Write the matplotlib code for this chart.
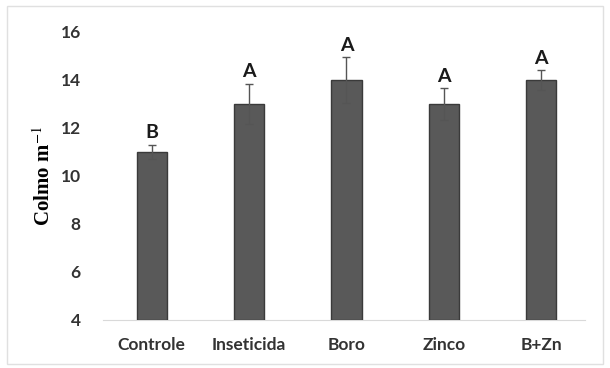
import matplotlib
matplotlib.use("Agg")
import matplotlib.pyplot as plt
import numpy as np

categories = ['Controle', 'Inseticida', 'Boro', 'Zinco', 'B+Zn']
means = [11.0, 13.0, 14.0, 13.0, 14.0]
errors = [0.3, 0.85, 0.95, 0.65, 0.4]
letters = ['B', 'A', 'A', 'A', 'A']

plt.rcParams['mathtext.fontset'] = 'stix'

fig = plt.figure(figsize=(6.1, 3.68), dpi=100)
ax = fig.add_axes([103/610, 48/368, 482/610, 288/368])

x = np.arange(len(categories))
ax.bar(x, np.array(means) - 4, bottom=4, width=0.31, color='#595959',
       edgecolor='#3a3a3a', linewidth=1.0, zorder=2)
ax.errorbar(x, means, yerr=errors, fmt='none', ecolor='#555555',
            elinewidth=1.0, capsize=3, capthick=1.0, zorder=3)

for xi, m, e, l in zip(x, means, errors, letters):
    ax.text(xi, m + e + 0.15, l, ha='center', va='bottom', fontsize=14,
            fontweight='bold', family='Lato', color='#1a1a1a')

ax.set_xlim(-0.5, len(categories) - 0.55)
ax.set_ylim(4, 16)
ax.set_yticks(np.arange(4, 17, 2))
ax.set_xticks(x)
ax.set_xticklabels(categories, fontsize=12.5, fontweight='bold', family='Lato', color='#333333')
for t in ax.get_yticklabels():
    t.set_fontsize(12.5)
    t.set_fontweight('bold')
    t.set_family('Lato')
    t.set_color('#333333')
ax.tick_params(length=0, pad=12)
ax.tick_params(axis='y', pad=16)
for s in ['top', 'right', 'left']:
    ax.spines[s].set_visible(False)
ax.spines['bottom'].set_color('#d9d9d9')
ax.spines['bottom'].set_zorder(1)

ax.set_ylabel('Colmo m$^{-1}$', fontsize=15, fontweight='bold',
              family='Liberation Serif', labelpad=4)

fig.patches.append(plt.Rectangle((0.012, 0.01), 0.976, 0.975, transform=fig.transFigure,
                                 fill=False, edgecolor='#e0e0e0', linewidth=1))

fig.savefig('out.png', dpi=100)
